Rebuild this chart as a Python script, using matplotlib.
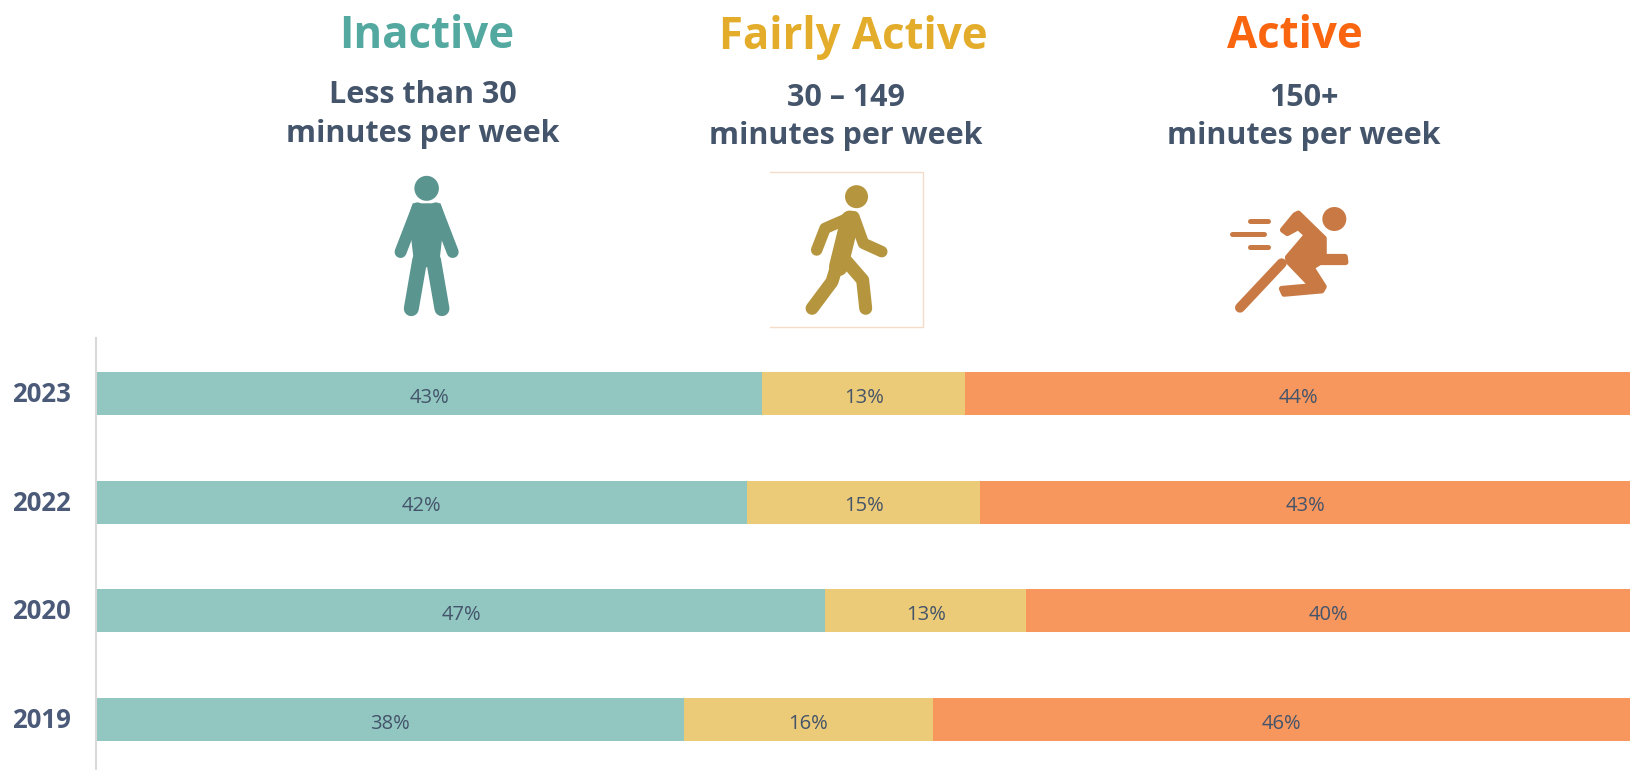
import matplotlib
matplotlib.use("Agg")
import matplotlib.pyplot as plt
from matplotlib.patches import Ellipse, Polygon
from matplotlib.transforms import ScaledTranslation

plt.rcParams["font.family"] = ["Open Sans", "DejaVu Sans"]

# Values
years = ["2023", "2022", "2020", "2019"]
inactive = [43.4, 42.4, 47.5, 38.3]
fairly_active = [13.2, 15.2, 13.1, 16.2]
active = [43.4, 42.4, 39.4, 45.5]
inactive_labels = ["43%", "42%", "47%", "38%"]
fairly_labels = ["13%", "15%", "13%", "16%"]
active_labels = ["44%", "43%", "40%", "46%"]

groups = ["Inactive", "Fairly Active", "Active"]
ranges = ["Less than 30\nminutes per week", "30 \u2013 149\nminutes per week", "150+\nminutes per week"]

TEAL, YELLOW, ORANGE = "#92C7C1", "#ECCB78", "#F7975E"
TEXT = "#44546A"

W, H = 1631, 770
fig = plt.figure(figsize=(W / 100, H / 100), dpi=100)

# Stacked bars
ax = fig.add_axes([96.5 / W, 0, (W - 96.5) / W, (H - 338) / H])
left = [0, 0, 0, 0]
for vals, labels, color in [
    (inactive, inactive_labels, TEAL),
    (fairly_active, fairly_labels, YELLOW),
    (active, active_labels, ORANGE),
]:
    bars = ax.barh(range(4), vals, left=left, height=0.395, color=color)
    anns = ax.bar_label(bars, labels=labels, label_type="center", color=TEXT, fontsize=14.5)
    for a in anns:
        a.xyann = (0, -3)  # labels sit a little below the bar centre
    left = [a + b for a, b in zip(left, vals)]

ax.set_xlim(0, 100)
ax.set_ylim(3.465, -0.51)
ax.set_xticks([])
ax.set_yticks(range(4))
ax.set_yticklabels(years, fontsize=18.5, fontweight="bold", color="#4A5A78")
ax.tick_params(axis="y", length=0, pad=18.5)
for lbl in ax.get_yticklabels():
    lbl.set_transform(lbl.get_transform() + ScaledTranslation(0, 2 / 100, fig.dpi_scale_trans))
for s in ["top", "right", "bottom"]:
    ax.spines[s].set_visible(False)
ax.spines["left"].set_color("#D9D9D9")
ax.spines["left"].set_linewidth(1.5)

# Overlay in pixels for the header and the icons
ov = fig.add_axes([0, 0, 1, 1], zorder=5)
ov.set_xlim(0, W)
ov.set_ylim(H, 0)
ov.axis("off")

ov.text(426.5, 37, groups[0], color="#53A8A0", fontsize=31.5, fontweight="bold", ha="center", va="center")
ov.text(853, 37, groups[1], color="#E3AD2B", fontsize=31.5, fontweight="bold", ha="center", va="center")
ov.text(1295, 37, groups[2], color="#F9660F", fontsize=31.5, fontweight="bold", ha="center", va="center")
for x, y, t in [(422.6, 114.5, ranges[0]), (846, 117, ranges[1]), (1303.6, 117, ranges[2])]:
    ov.text(x, y, t, color=TEXT, fontsize=22, fontweight="bold", ha="center", va="center", linespacing=1.38)


def stroke(pts, width, color, ox, oy, kx, ky):
    xs = [ox + p[0] / kx for p in pts]
    ys = [oy + p[1] / ky for p in pts]
    ov.plot(xs, ys, color=color, lw=width * 0.72, solid_capstyle="round", solid_joinstyle="round")


# Standing figure
c = "#5B9590"
ox, oy, kx, ky = 350, 160, 2.61, 3
ov.add_patch(Ellipse((ox + 200 / kx, oy + 85 / ky), 24.5, 25, color=c, lw=0))
torso = [(165, 132), (235, 132), (245, 170), (232, 300), (200, 320), (168, 300), (155, 170)]
ov.add_patch(Polygon([(ox + p[0] / kx, oy + p[1] / ky) for p in torso], color=c, lw=1, joinstyle="round"))
stroke([(176, 145), (132, 276)], 12, c, ox, oy, kx, ky)
stroke([(224, 145), (268, 276)], 12, c, ox, oy, kx, ky)
stroke([(182, 300), (160, 446)], 15, c, ox, oy, kx, ky)
stroke([(218, 300), (240, 446)], 15, c, ox, oy, kx, ky)

# Walking figure and its frame
c = "#B5963E"
ov.add_patch(Ellipse((ox + 1322 / kx, oy + 110 / ky), 23, 23, color=c, lw=0))
stroke([(1310, 170), (1240, 205), (1218, 270)], 11.5, c, ox, oy, kx, ky)
stroke([(1315, 170), (1340, 250), (1388, 275)], 11.5, c, ox, oy, kx, ky)
stroke([(1305, 180), (1275, 320)], 19, c, ox, oy, kx, ky)
stroke([(1270, 320), (1258, 365), (1206, 445)], 13, c, ox, oy, kx, ky)
stroke([(1285, 290), (1338, 360), (1346, 445)], 13, c, ox, oy, kx, ky)
ov.plot([770, 922.7, 922.7, 770], [172, 172, 326.6, 326.6], color="#F5DCC8", lw=1)

# Running figure
c = "#C97A44"
ox, oy, kx, ky = 1180, 180, 3, 3
ov.add_patch(Ellipse((ox + 463 / kx, oy + 117 / ky), 24, 24, color=c, lw=0))
stroke([(210, 124), (263, 124)], 5, c, ox, oy, kx, ky)
stroke([(155, 163), (253, 163)], 5, c, ox, oy, kx, ky)
stroke([(210, 202), (263, 202)], 5, c, ox, oy, kx, ky)
stroke([(180, 383), (305, 250)], 10, c, ox, oy, kx, ky)
runner = [(355, 100), (432, 175), (432, 230), (495, 230), (497, 247), (420, 247), (395, 262),
          (432, 320), (425, 332), (312, 342), (305, 326), (395, 318), (325, 245), (323, 232),
          (380, 165), (355, 142), (322, 160), (308, 150), (345, 105)]
ov.add_patch(Polygon([(ox + p[0] / kx, oy + p[1] / ky) for p in runner], color=c, lw=4, joinstyle="round"))

fig.savefig("out.png", dpi=100)
